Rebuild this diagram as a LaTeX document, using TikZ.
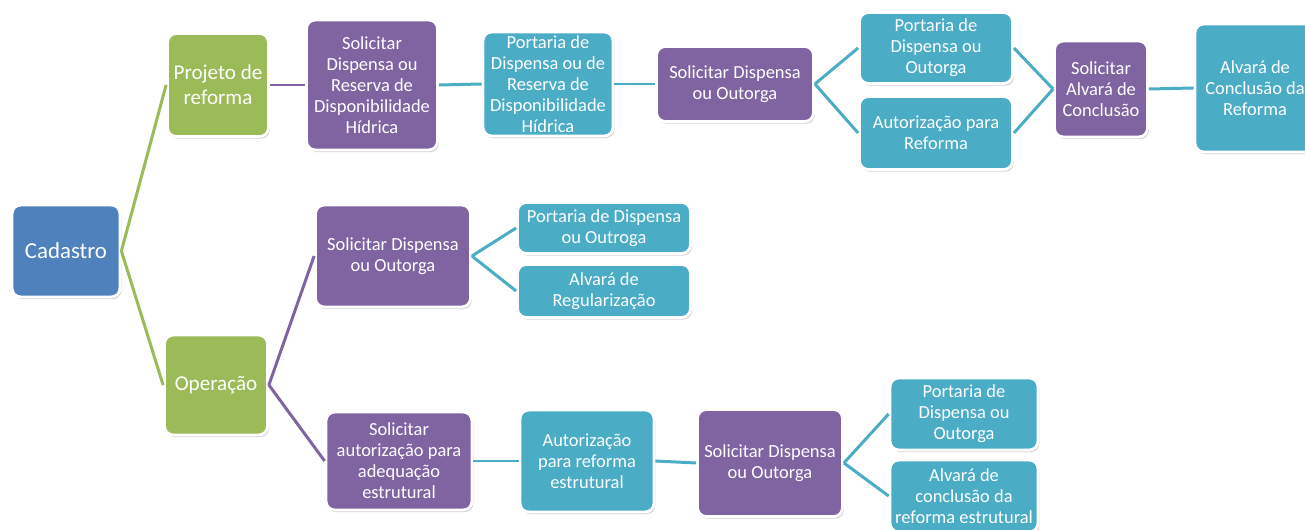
\documentclass[tikz,border=0pt]{standalone}
\usepackage{fontspec}
\setmainfont{Carlito}
\usepackage{xcolor}
\usetikzlibrary{positioning,shadows}

\definecolor{cadblue}{HTML}{4F81BD}
\definecolor{stepgreen}{HTML}{9BBB59}
\definecolor{askpurple}{HTML}{8064A2}
\definecolor{docteal}{HTML}{4BACC6}

\begin{document}
\begin{tikzpicture}[x=0.02cm, y=-0.02cm,
    box/.style={draw=white, line width=1.6pt, rounded corners=5pt, text=white, align=center, inner sep=1pt,
        font=\fontsize{10.5}{12}\selectfont,
        drop shadow={shadow xshift=0.8pt, shadow yshift=-1.2pt, fill=black!40, opacity=0.45}},
    root/.style={box, fill=cadblue, font=\fontsize{13}{15}\selectfont},
    branch/.style={box, fill=stepgreen, font=\fontsize{12}{14.2}\selectfont},
    ask/.style={box, fill=askpurple},
    doc/.style={box, fill=docteal},
    link/.style={line width=1.7pt}]
\useasboundingbox (0,0) rectangle (1305,530);

\node[root, minimum width=2.16cm, minimum height=1.84cm] (cadastro) at (66,251) {Cadastro};
\node[branch, minimum width=2.02cm, minimum height=2.06cm] (projeto) at (218,85) {Projeto de\\reforma};
\node[branch, minimum width=2.06cm, minimum height=2.0cm] (operacao) at (216,385) {Operação};

% ramo do projeto de reforma
\node[ask, minimum width=2.62cm, minimum height=2.6cm] (sol_reserva) at (372,85) {Solicitar\\Dispensa ou\\Reserva de\\Disponibilidade\\Hídrica};
\node[doc, minimum width=2.6cm, minimum height=2.08cm] (port_reserva) at (548,84) {Portaria de\\Dispensa ou de\\Reserva de\\Disponibilidade\\Hídrica};
\node[ask, minimum width=3.14cm, minimum height=1.5cm] (sol_outorga_a) at (735,84) {Solicitar Dispensa\\ou Outorga};
\node[doc, minimum width=3.06cm, minimum height=1.42cm] (port_outorga_a) at (936,48) {Portaria de\\Dispensa ou\\Outorga};
\node[doc, minimum width=3.06cm, minimum height=1.46cm] (aut_reforma) at (936,133) {Autorização para\\Reforma};
\node[ask, minimum width=1.86cm, minimum height=1.92cm] (sol_alvara) at (1101,89) {Solicitar\\Alvará de\\Conclusão};
\node[doc, minimum width=2.4cm, minimum height=2.56cm] (alv_reforma) at (1255,88) {Alvará de\\Conclusão da\\Reforma};

% ramo da operacao
\node[ask, minimum width=3.1cm, minimum height=2.04cm] (sol_outorga_b) at (393,256) {Solicitar Dispensa\\ou Outorga};
\node[doc, minimum width=3.46cm, minimum height=1.02cm] (port_outroga) at (604,228) {Portaria de Dispensa\\ou Outroga};
\node[doc, minimum width=3.46cm, minimum height=1.06cm] (alv_regular) at (604,291) {Alvará de\\Regularização};
\node[ask, minimum width=2.92cm, minimum height=1.96cm] (sol_adequacao) at (399,461) {Solicitar\\autorização para\\adequação\\estrutural};
\node[doc, minimum width=2.68cm, minimum height=2.04cm] (aut_estrutural) at (587,461) {Autorização\\para reforma\\estrutural};
\node[ask, minimum width=2.9cm, minimum height=2.14cm] (sol_outorga_c) at (770,463) {Solicitar Dispensa\\ou Outorga};
\node[doc, minimum width=2.96cm, minimum height=1.44cm] (port_outorga_c) at (964,414) {Portaria de\\Dispensa ou\\Outorga};
\node[doc, minimum width=2.96cm, minimum height=1.44cm] (alv_estrutural) at (964,496) {Alvará de\\conclusão da\\reforma estrutural};

\draw[link, stepgreen] (cadastro.east) -- (projeto.west);
\draw[link, stepgreen] (cadastro.east) -- (operacao.west);
\draw[link, askpurple] (projeto.east) -- (sol_reserva.west);
\draw[link, askpurple] (operacao.east) -- (sol_outorga_b.west);
\draw[link, askpurple] (operacao.east) -- (sol_adequacao.west);
\draw[link, docteal] (sol_reserva.east) -- (port_reserva.west);
\draw[link, docteal] (port_reserva.east) -- (sol_outorga_a.west);
\draw[link, docteal] (sol_outorga_a.east) -- (port_outorga_a.west);
\draw[link, docteal] (sol_outorga_a.east) -- (aut_reforma.west);
\draw[link, docteal] (port_outorga_a.east) -- (sol_alvara.west);
\draw[link, docteal] (aut_reforma.east) -- (sol_alvara.west);
\draw[link, docteal] (sol_alvara.east) -- (alv_reforma.west);
\draw[link, docteal] (sol_outorga_b.east) -- (port_outroga.west);
\draw[link, docteal] (sol_outorga_b.east) -- (alv_regular.west);
\draw[link, docteal] (sol_adequacao.east) -- (aut_estrutural.west);
\draw[link, docteal] (aut_estrutural.east) -- (sol_outorga_c.west);
\draw[link, docteal] (sol_outorga_c.east) -- (port_outorga_c.west);
\draw[link, docteal] (sol_outorga_c.east) -- (alv_estrutural.west);

\end{tikzpicture}
\end{document}
